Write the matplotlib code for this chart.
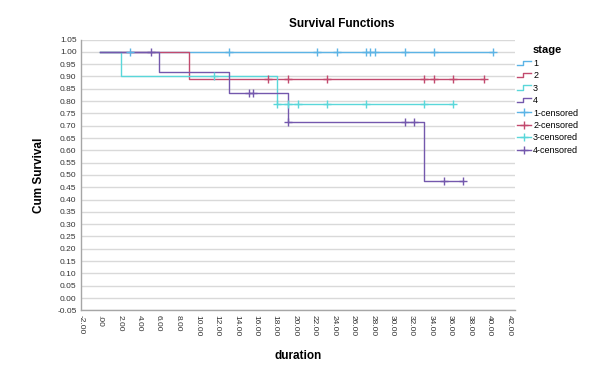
import numpy as np
import matplotlib.pyplot as plt
from matplotlib.legend_handler import HandlerBase
from matplotlib.lines import Line2D

plt.rcParams['font.family'] = ['Liberation Sans', 'DejaVu Sans']

stages = ['1', '2', '3', '4']
colors = ['#5cb4e6', '#c24a6e', '#5ad7da', '#7458ad']

# event times and survival after each event
event_t = {
    '1': [],
    '2': [9.1],
    '3': [2.1, 18.2],
    '4': [6.1, 13.2, 19.3, 33.3],
}
event_s = {
    '1': [],
    '2': [0.889],
    '3': [0.90, 0.79],
    '4': [0.917, 0.833, 0.714, 0.476],
}
censor_t = {
    '1': [3.1, 13.2, 22.3, 24.3, 27.3, 27.7, 28.2, 31.3, 34.3, 40.4],
    '2': [17.2, 19.3, 23.3, 33.3, 34.3, 36.3, 39.4],
    '3': [11.7, 18.2, 19.3, 20.3, 23.3, 27.3, 33.3, 36.3],
    '4': [5.2, 15.3, 15.7, 19.3, 31.3, 32.3, 35.3, 37.3],
}
end_t = {'1': 40.4, '2': 39.4, '3': 36.3, '4': 37.3}

yticks = np.arange(-0.05, 1.0501, 0.05)
xticks = np.arange(-2, 42.01, 2)


def surv_at(st, t):
    s = 1.0
    for et, es in zip(event_t[st], event_s[st]):
        if t >= et:
            s = es
    return s


class StepHandler(HandlerBase):
    def create_artists(self, legend, orig, xd, yd, w, h, fontsize, trans):
        x = [xd, xd + w * 0.45, xd + w * 0.45, xd + w]
        y = [yd + h * 0.15, yd + h * 0.15, yd + h * 0.85, yd + h * 0.85]
        ln = Line2D(x, y, color=orig.get_color(), lw=1.0, transform=trans)
        return [ln]


fig = plt.figure(figsize=(6.02, 3.73), dpi=100)
ax = fig.add_axes([0.134, 0.168, 0.721, 0.726])

for i in range(len(yticks)):
    ax.axhline(yticks[i], color='#d9d9d9', lw=1.0, zorder=0)

handles = []
for st, c in zip(stages, colors):
    xs = [0] + event_t[st] + [end_t[st]]
    ys = [1.0] + event_s[st] + [event_s[st][-1] if event_s[st] else 1.0]
    ln, = ax.step(xs, ys, where='post', color=c, lw=1.0, zorder=3)
    handles.append(ln)
cens_handles = []
for st, c in zip(stages, colors):
    cy = [surv_at(st, t) for t in censor_t[st]]
    m, = ax.plot(censor_t[st], cy, ls='none', marker='+', ms=6, mew=1.0,
                 color=c, zorder=4)
    cens_handles.append(Line2D([], [], color=c, lw=1.0, marker='+', ms=6, mew=1.0))

ax.set_xlim(-2, 42.6)
ax.set_ylim(-0.05, 1.05)
ax.set_yticks(yticks)
ax.set_yticklabels(['%.2f' % v for v in yticks])
ax.set_xticks(xticks)
ax.set_xticklabels([('%.2f' % v).replace('0.00', '.00') if v == 0 else '%.2f' % v
                    for v in xticks], rotation=270)
ax.tick_params(axis='both', length=0, labelsize=6, colors='#333333', pad=3)
for sp in ['top', 'right']:
    ax.spines[sp].set_visible(False)
for sp in ['left', 'bottom']:
    ax.spines[sp].set_color('#a6a6a6')
    ax.spines[sp].set_linewidth(1.0)

ax.set_ylabel('Cum Survival', fontsize=8.5, fontweight='bold', labelpad=9)
ax.set_xlabel('duration', fontsize=8.5, fontweight='bold', labelpad=10)
fig.text(0.567, 0.935, 'Survival Functions', ha='center', va='center',
         fontsize=8.5, fontweight='bold')

leg = fig.legend(handles + cens_handles, stages + [s + '-censored' for s in stages],
                 title='stage', loc='upper left', bbox_to_anchor=(0.848, 0.895),
                 frameon=False, fontsize=6.5, handlelength=1.6, handletextpad=0.2,
                 labelspacing=0.38, borderpad=0.2,
                 handler_map={h: StepHandler() for h in handles})
leg.get_title().set_fontweight('bold')
leg.get_title().set_fontsize(8)

fig.savefig('out.png', dpi=100)
